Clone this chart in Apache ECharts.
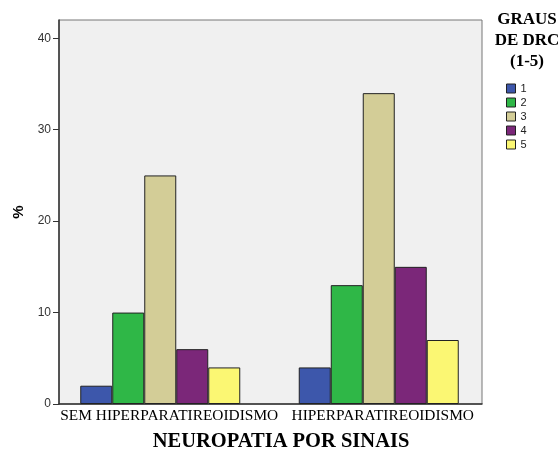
<!DOCTYPE html>
<html><head><meta charset="utf-8">
<script src="https://cdn.jsdelivr.net/npm/echarts@6/dist/echarts.min.js"></script>
<style>html,body{margin:0;padding:0;background:#fff}#c{width:558px;height:450px}</style>
</head><body><div id="c"></div>
<script>
const categories = ['SEM HIPERPARATIREOIDISMO', 'HIPERPARATIREOIDISMO'];
const seriesNames = ['1', '2', '3', '4', '5'];
const grau1 = [2, 4];
const grau2 = [10, 13];
const grau3 = [25, 34];
const grau4 = [6, 15];
const grau5 = [4, 7];
const yTicks = [0, 10, 20, 30, 40];
const colors = ['#3d57ab', '#2fb747', '#d3cd97', '#7b2779', '#fbf773'];
const values = [grau1, grau2, grau3, grau4, grau5];
const labelShift = [18, 8];

const chart = echarts.init(document.getElementById('c'), null, {renderer: 'canvas'});
chart.setOption({
  animation: false,
  backgroundColor: '#fff',
  grid: [
    {left: 59, top: 20, width: 423, height: 384, show: true, backgroundColor: '#f0f0f0', borderColor: '#777', borderWidth: 1},
    {left: 51, top: 20, width: 437, height: 384}
  ],
  xAxis: [
    {gridIndex: 0, type: 'value', min: 0, max: 1, axisLabel: {show: false}, axisTick: {show: false}, splitLine: {show: false},
     axisLine: {show: true, lineStyle: {color: '#333', width: 1.5}}},
    {gridIndex: 1, type: 'category',
     data: categories.map((c, i) => ({value: c, textStyle: {padding: [0, 0, 0, labelShift[i]]}})),
     axisLine: {show: false},
     axisTick: {show: true, inside: true, alignWithLabel: true, length: 3, lineStyle: {color: '#555'}},
     axisLabel: {interval: 0, color: '#000', fontFamily: 'Liberation Serif', fontSize: 15.4, margin: 4}}
  ],
  yAxis: [
    {gridIndex: 0, type: 'value', min: 0, max: 42, splitLine: {show: false},
     axisLine: {show: true, lineStyle: {color: '#333', width: 1.5}},
     axisTick: {show: true, length: 6, customValues: yTicks, lineStyle: {color: '#333'}},
     axisLabel: {customValues: yTicks, color: '#333', fontFamily: 'Liberation Sans', fontSize: 12, margin: 8},
     name: '%', nameLocation: 'middle', nameGap: 31, nameRotate: 90,
     nameTextStyle: {fontFamily: 'Liberation Sans', fontWeight: 'bold', fontSize: 15, color: '#000'}},
    {gridIndex: 1, type: 'value', min: 0, max: 42, show: false}
  ],
  legend: {
    orient: 'vertical', left: 506, top: 83, padding: 0,
    itemWidth: 9, itemHeight: 9, itemGap: 3,
    icon: 'rect',
    textStyle: {fontFamily: 'Liberation Sans', fontSize: 11, color: '#222', padding: [0, 0, 0, 0]},
    itemStyle: {borderColor: '#222', borderWidth: 1},
    data: seriesNames
  },
  graphic: [
    {type: 'text', style: {text: 'GRAUS\nDE DRC\n(1-5)', x: 527, y: 9, align: 'center', lineHeight: 21,
      font: 'bold 17px "Liberation Serif"', fill: '#000'}},
    {type: 'text', style: {text: 'NEUROPATIA POR SINAIS', x: 281, y: 431, align: 'center',
      font: 'bold 20.5px "Liberation Serif"', fill: '#000'}}
  ],
  series: seriesNames.map((n, i) => ({
    name: n, type: 'bar', xAxisIndex: 1, yAxisIndex: 1,
    data: values[i], barWidth: 32, barGap: '0%',
    itemStyle: {color: colors[i], borderColor: '#222', borderWidth: 1}
  }))
});
</script></body></html>
